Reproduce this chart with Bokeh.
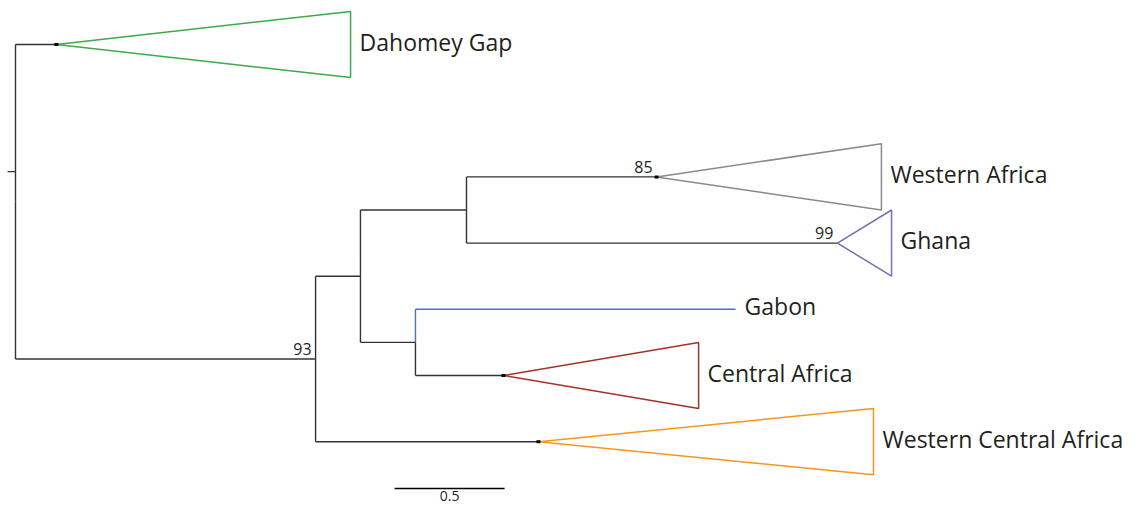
from bokeh.plotting import figure
from bokeh.models import Range1d
from bokeh.core.properties import value
from bokeh.embed import file_html
from bokeh.resources import INLINE

# ---- data (branch depths in substitutions/site, rows = leaf order) ----
clades = ["Dahomey Gap", "Western Africa", "Ghana", "Gabon", "Central Africa", "Western Central Africa"]
clade_row = [0, 2, 3, 4, 5, 6]
clade_node_depth = [0.186, 2.914, 3.736, 3.273, 2.218, 2.377]
clade_tip_depth = [1.523, 3.936, 3.982, 3.273, 3.105, 3.900]
clade_half = [0.5, 0.5, 0.5, 0.0, 0.5, 0.5]
clade_color = ["#3aaa4a", "#8a8a8a", "#7a6cb8", "#4a72c0", "#a3302b", "#f7961e"]
clade_dot = [True, True, False, False, True, True]

internal_names = ["root", "A", "B", "C", "D"]
internal_depth = [0.0, 1.364, 1.568, 2.050, 1.818]
children = {
    "root": ["Dahomey Gap", "A"],
    "A": ["B", "Western Central Africa"],
    "B": ["C", "D"],
    "C": ["Western Africa", "Ghana"],
    "D": ["Gabon", "Central Africa"],
}
bootstrap_node = ["A", "Western Africa", "Ghana"]
bootstrap_value = ["93", "85", "99"]
root_stub_row = 1.92
root_stub_len = 0.036
scale_len = 0.5
scale_label = "0.5"
scale_x0 = 1.723
scale_row = 6.707

FONT = "Open Sans"
TREE = "#333333"
TXT = "#231f20"

# ---- compute node positions ----
depth = dict(zip(internal_names, internal_depth))
depth.update(dict(zip(clades, clade_node_depth)))
row = dict(zip(clades, clade_row))


def get_row(n):
    if n in row:
        return row[n]
    r = (get_row(children[n][0]) + get_row(children[n][-1])) / 2.0
    row[n] = r
    return r


get_row("root")
color_of = dict(zip(clades, clade_color))

W, H = 1138, 509
px_per_x = 220.0
px_per_row = 66.2
x0 = -15 / px_per_x
y_top = -44 / px_per_row

p = figure(width=W, height=H, output_backend="svg", toolbar_location=None,
           x_range=Range1d(x0, x0 + W / px_per_x),
           y_range=Range1d(y_top + H / px_per_row, y_top),
           min_border=0, outline_line_color=None)
p.axis.visible = False
p.grid.visible = False
p.background_fill_color = "white"

# segments
sx0, sy0, sx1, sy1, scol = [], [], [], [], []
for n, ch in children.items():
    d = depth[n]
    for c in ch:
        col = color_of.get(c) if (c in clades and clade_half[clades.index(c)] == 0) else TREE
        sx0.append(d); sy0.append(row[n]); sx1.append(d); sy1.append(row[c]); scol.append(col)
        sx0.append(d); sy0.append(row[c]); sx1.append(depth[c]); sy1.append(row[c]); scol.append(col)
sx0.append(depth["root"] - root_stub_len); sy0.append(root_stub_row)
sx1.append(depth["root"]); sy1.append(root_stub_row); scol.append(TREE)

p.segment(x0=sx0, y0=sy0, x1=sx1, y1=sy1, line_color=scol, line_width=1.4)

# collapsed clade triangles
xs, ys, tcol = [], [], []
for i, c in enumerate(clades):
    if clade_half[i] > 0:
        xs.append([clade_node_depth[i], clade_tip_depth[i], clade_tip_depth[i]])
        ys.append([clade_row[i], clade_row[i] - clade_half[i], clade_row[i] + clade_half[i]])
        tcol.append(clade_color[i])
p.patches(xs=xs, ys=ys, fill_color=None, line_color=tcol, line_width=1.5)

# small node dots
dx = [clade_node_depth[i] for i in range(len(clades)) if clade_dot[i]]
dy = [clade_row[i] for i in range(len(clades)) if clade_dot[i]]
p.rect(x=dx, y=dy, width=4, height=3, width_units="screen", height_units="screen",
       fill_color="black", line_color=None)

# clade labels
p.text(x=clade_tip_depth, y=clade_row, text=clades, x_offset=9, y_offset=-3,
       text_font=value(FONT), text_font_size="23px", text_color=TXT,
       text_baseline="middle", text_align="left")

# bootstrap values
p.text(x=[depth[n] for n in bootstrap_node], y=[row[n] for n in bootstrap_node],
       text=bootstrap_value, x_offset=-4, y_offset=-4,
       text_font=value(FONT), text_font_size="16px", text_color=TXT,
       text_baseline="bottom", text_align="right")

# scale bar
p.segment(x0=[scale_x0], y0=[scale_row], x1=[scale_x0 + scale_len], y1=[scale_row],
          line_color="black", line_width=1.4)
p.text(x=[scale_x0 + scale_len / 2], y=[scale_row], text=[scale_label], y_offset=2,
       text_font=value(FONT), text_font_size="14px", text_color=TXT,
       text_baseline="top", text_align="center")

open("out.html", "w").write(file_html(p, INLINE))
